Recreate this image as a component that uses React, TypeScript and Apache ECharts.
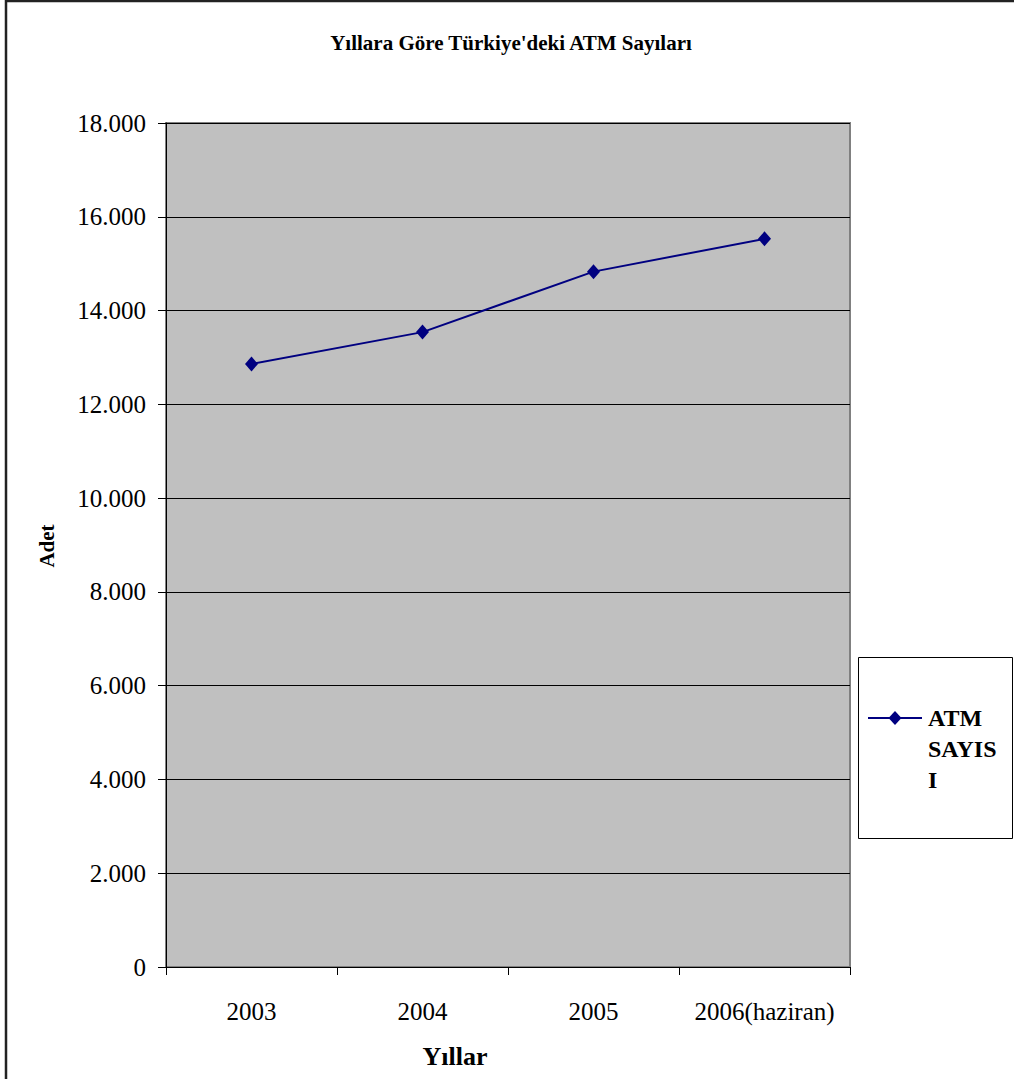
import React, { useEffect, useRef } from "react";
import * as echarts from "echarts";

const categories = ["2003", "2004", "2005", "2006(haziran)"];
const atmCounts = [12860, 13540, 14830, 15530];
const seriesName = "ATM SAYISI";
const legendLines = ["ATM", "SAYIS", "I"];
const titleText = "Yıllara Göre Türkiye'deki ATM Sayıları";
const xName = "Yıllar";
const yName = "Adet";

const FONT = "'Liberation Serif', 'Times New Roman', serif";

function fmt(v: number): string {
  const s = Math.round(v).toString();
  return s.replace(/\B(?=(\d{3})+(?!\d))/g, ".");
}

export default function App() {
  const ref = useRef<HTMLDivElement>(null);
  useEffect(() => {
    if (!ref.current) return;
    const chart = echarts.init(ref.current, null, { renderer: "svg" });
    chart.setOption({
      animation: false,
      backgroundColor: "#ffffff",
      textStyle: { fontFamily: FONT },
      grid: {
        left: 166,
        right: 164,
        top: 123,
        bottom: 112,
        show: true,
        backgroundColor: "#C0C0C0",
        borderColor: "#808080",
        borderWidth: 2,
      },
      xAxis: {
        type: "category",
        data: categories,
        boundaryGap: true,
        axisLine: { lineStyle: { color: "#000", width: 1 } },
        axisTick: { show: true, interval: 0, length: 8, inside: false, lineStyle: { color: "#000" } },
        axisLabel: { interval: 0, color: "#000", fontSize: 25, fontFamily: FONT, margin: 32 },
        splitLine: { show: false },
      },
      yAxis: {
        type: "value",
        min: 0,
        max: 18000,
        interval: 2000,
        axisLine: { show: true, lineStyle: { color: "#000", width: 1 } },
        axisTick: { show: true, length: 8, lineStyle: { color: "#000" } },
        axisLabel: {
          color: "#000",
          fontSize: 25,
          fontFamily: FONT,
          margin: 20,
          formatter: (v: number) => fmt(v),
        },
        splitLine: { show: true, lineStyle: { color: "#000", width: 1 } },
      },
      series: [
        {
          name: seriesName,
          type: "line",
          data: atmCounts,
          symbol: "diamond",
          symbolSize: [13, 15],
          lineStyle: { color: "#000080", width: 2 },
          itemStyle: { color: "#000080" },
        },
      ],
      graphic: [
        {
          type: "rect",
          shape: { x: 6, y: 1, width: 1200, height: 1200 },
          style: { fill: "none", stroke: "#222", lineWidth: 2.5 },
          silent: true,
        },
        {
          type: "text",
          x: 511,
          y: 43,
          style: {
            text: titleText,
            font: `bold 21px ${FONT}`,
            fill: "#000",
            align: "center",
            verticalAlign: "middle",
          },
        },
        {
          type: "text",
          x: 455,
          y: 1056,
          style: {
            text: xName,
            font: `bold 26px ${FONT}`,
            fill: "#000",
            align: "center",
            verticalAlign: "middle",
          },
        },
        {
          type: "text",
          x: 47,
          y: 546,
          rotation: Math.PI / 2,
          style: {
            text: yName,
            font: `bold 21px ${FONT}`,
            fill: "#000",
            align: "center",
            verticalAlign: "middle",
          },
        },
        {
          type: "rect",
          shape: { x: 858.5, y: 657.5, width: 154, height: 181 },
          style: { fill: "#fff", stroke: "#000", lineWidth: 1 },
        },
        {
          type: "line",
          shape: { x1: 868, y1: 718, x2: 922, y2: 718 },
          style: { stroke: "#000080", lineWidth: 2 },
        },
        {
          type: "polygon",
          shape: { points: [[895, 711], [901.5, 718], [895, 725], [888.5, 718]] },
          style: { fill: "#000080" },
        },
        ...legendLines.map((t, i) => ({
          type: "text",
          x: 928,
          y: 718 + i * 31,
          style: {
            text: t,
            font: `bold 24px ${FONT}`,
            fill: "#000",
            align: "left",
            verticalAlign: "middle",
          },
        })),
      ],
    });
    return () => chart.dispose();
  }, []);
  return (
    <div
      ref={ref}
      style={{ position: "absolute", left: 0, top: 0, width: 1014, height: 1079 }}
    />
  );
}
